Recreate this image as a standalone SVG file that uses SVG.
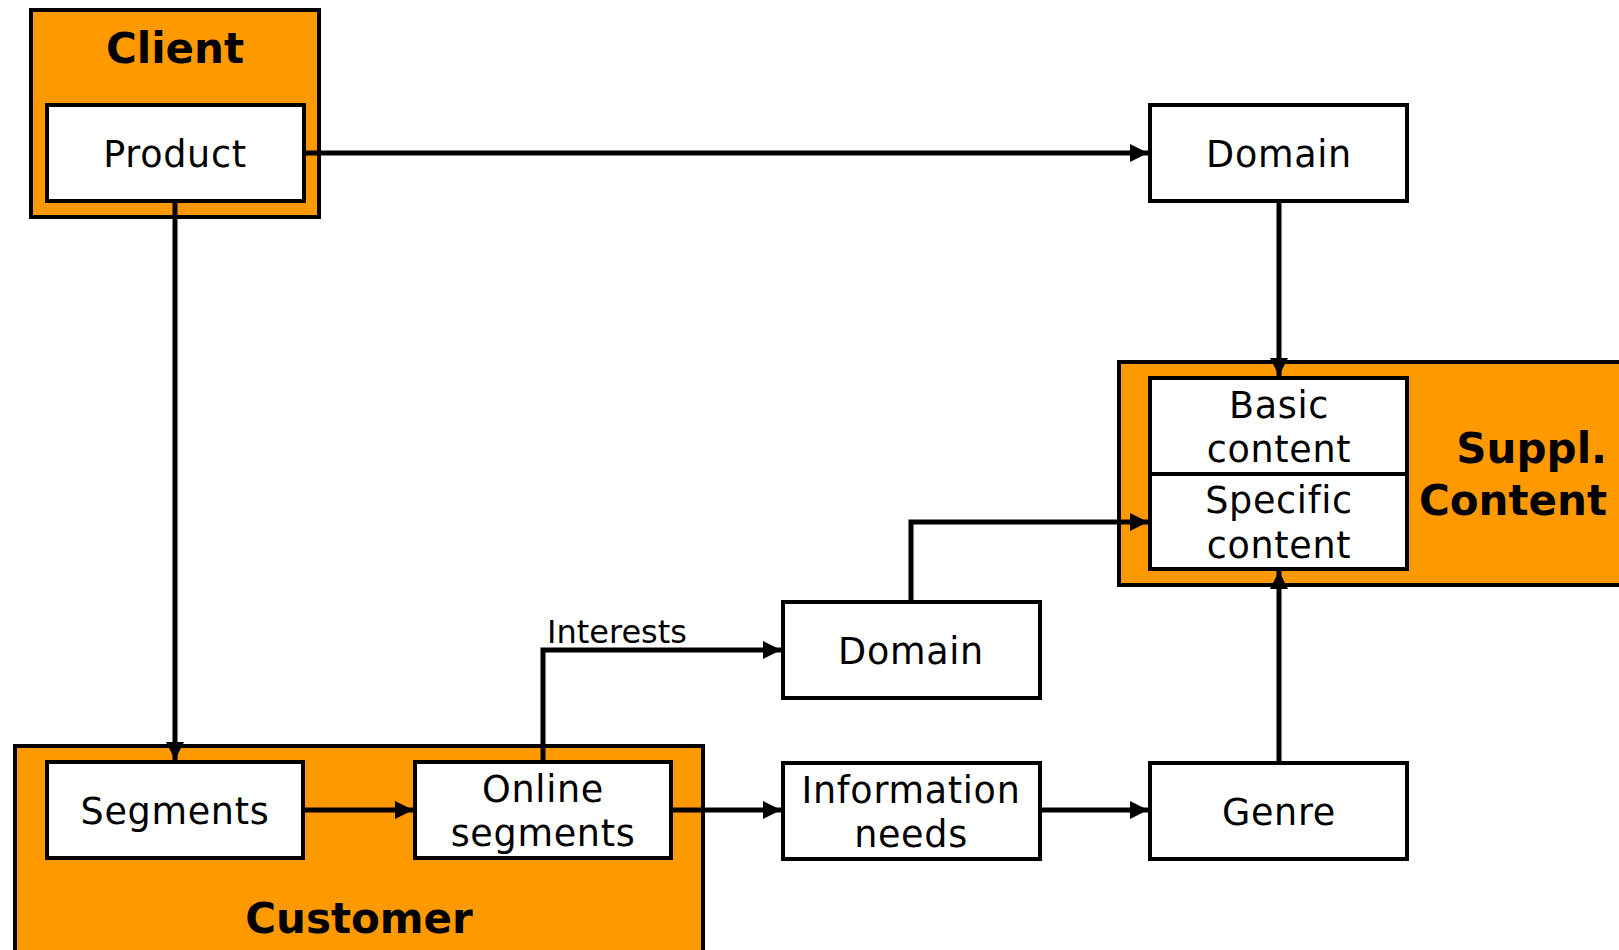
<svg xmlns="http://www.w3.org/2000/svg" width="1619" height="950" viewBox="0 0 1619 950">
  <defs>
    <style>
      .group { fill: #FF9900; stroke: #000; stroke-width: 4; }
      .box { fill: #fff; stroke: #000; stroke-width: 4; }
      .lbl { font-family: "DejaVu Sans", Verdana, sans-serif; font-size: 36.5px; letter-spacing: 0.7px; fill: #000; text-anchor: middle; }
      .title { font-family: "DejaVu Sans", Verdana, sans-serif; font-size: 42px; font-weight: bold; fill: #000; text-anchor: middle; }
      .edge { fill: none; stroke: #000; stroke-width: 5; stroke-linejoin: miter; marker-end: url(#arrow); }
      .note { font-family: "DejaVu Sans", Verdana, sans-serif; font-size: 32px; fill: #000; }
    </style>
    <marker id="arrow" markerUnits="userSpaceOnUse" markerWidth="19" markerHeight="19" refX="18" refY="9" orient="auto">
      <path d="M0,0 L18,9 L0,18 z" fill="#000"/>
    </marker>
  </defs>
  <rect width="1619" height="950" fill="#fff"/>

  <!-- Client container -->
  <g id="client">
    <rect class="group" x="31" y="10" width="288" height="207"/>
    <text class="title" x="175" y="63">Client</text>
  </g>
  <g id="product">
    <rect class="box" x="47" y="105" width="257" height="96"/>
    <text class="lbl" x="175" y="167">Product</text>
  </g>

  <!-- Suppl. Content container -->
  <g id="suppl-content">
    <rect class="group" x="1119" y="362" width="520" height="223"/>
    <text class="title" x="1607" y="463" style="text-anchor:end">Suppl.</text>
    <text class="title" x="1607" y="515" style="text-anchor:end">Content</text>
  </g>
  <g id="basic-content">
    <rect class="box" x="1150" y="378" width="257" height="96"/>
    <text class="lbl" x="1279" y="418">Basic</text>
    <text class="lbl" x="1279" y="462">content</text>
  </g>
  <g id="specific-content">
    <rect class="box" x="1150" y="474" width="257" height="95"/>
    <text class="lbl" x="1279" y="513">Specific</text>
    <text class="lbl" x="1279" y="558">content</text>
  </g>

  <!-- Customer container -->
  <g id="customer">
    <rect class="group" x="15" y="746" width="688" height="230"/>
    <text class="title" x="359" y="933">Customer</text>
  </g>
  <g id="segments">
    <rect class="box" x="47" y="762" width="256" height="96"/>
    <text class="lbl" x="175" y="824">Segments</text>
  </g>
  <g id="online-segments">
    <rect class="box" x="415" y="762" width="256" height="96"/>
    <text class="lbl" x="543" y="802">Online</text>
    <text class="lbl" x="543" y="846">segments</text>
  </g>

  <!-- Free-standing nodes -->
  <g id="domain-top">
    <rect class="box" x="1150" y="105" width="257" height="96"/>
    <text class="lbl" x="1279" y="167">Domain</text>
  </g>
  <g id="domain-mid">
    <rect class="box" x="783" y="602" width="257" height="96"/>
    <text class="lbl" x="911" y="664">Domain</text>
  </g>
  <g id="information-needs">
    <rect class="box" x="783" y="763" width="257" height="96"/>
    <text class="lbl" x="911" y="803">Information</text>
    <text class="lbl" x="911" y="847">needs</text>
  </g>
  <g id="genre">
    <rect class="box" x="1150" y="763" width="257" height="96"/>
    <text class="lbl" x="1279" y="825">Genre</text>
  </g>

  <!-- Connectors -->
  <g id="connectors">
    <path class="edge" d="M304,153 L1148,153"/>
    <path class="edge" d="M175,201 L175,760"/>
    <path class="edge" d="M1279,201 L1279,376"/>
    <path class="edge" d="M911,602 L911,522 L1148,522"/>
    <path class="edge" d="M1279,763 L1279,571"/>
    <path class="edge" d="M303,810 L413,810"/>
    <path class="edge" d="M671,810 L781,810"/>
    <path class="edge" d="M1040,810 L1148,810"/>
    <path class="edge" d="M543,762 L543,650 L781,650"/>
    <text class="note" x="547" y="643">Interests</text>
  </g>
</svg>
